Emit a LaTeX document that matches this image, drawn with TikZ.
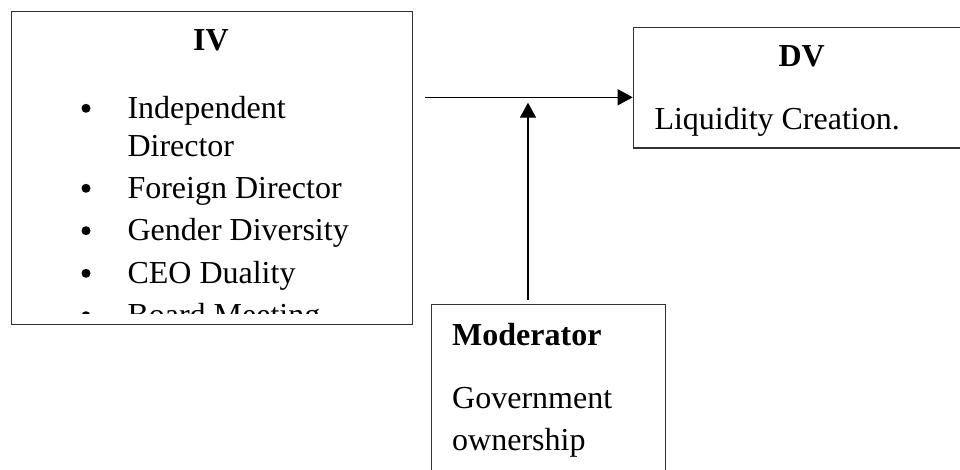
\documentclass[tikz,border=0pt]{standalone}
\usepackage{fontspec}
\setmainfont{Liberation Serif}
\usetikzlibrary{arrows.meta}
\tikzset{
  box/.style={draw=black!80, line width=1.3pt, rectangle, inner sep=0pt, anchor=north west},
  txt/.style={anchor=base west, inner sep=0pt, font=\fontsize{32}{38}\selectfont},
  head/.style={anchor=base, inner sep=0pt, font=\fontsize{32}{38}\selectfont\bfseries},
  arr/.style={line width=1.3pt, draw=black, -{Triangle[length=15pt,width=16pt]}},
  dot/.style={circle, fill=black, inner sep=0pt, minimum size=9pt}
}
\begin{document}
\begin{tikzpicture}[x=1pt,y=-1pt]
\useasboundingbox (0,0) rectangle (960,470);
\clip (0,0) rectangle (960,470);
% boxes
\node[box, minimum width=401.3pt, minimum height=313pt] (iv) at (10.7,11) {};
\node[box, minimum width=340pt, minimum height=120.5pt] (dv) at (632.7,27) {};
\node[box, minimum width=234pt, minimum height=190pt] (mod) at (431,304) {};
% IV content
\node[head] (ivt) at (211,50.5) {IV};
\begin{scope}
\clip (10.7,11) rectangle (412,313);
\node[dot] (b1) at (86,108.3) {};
\node[dot] (b2) at (86,188.3) {};
\node[dot] (b3) at (86,230.7) {};
\node[dot] (b4) at (86,273.3) {};
\node[dot] (b5) at (86,315.7) {};
\node[txt] (t1) at (127.3,118.3) {Independent};
\node[txt] (t1b) at (127.3,156.7) {Director};
\node[txt] (t2) at (127.3,198.3) {Foreign Director};
\node[txt] (t3) at (127.3,240.7) {Gender Diversity};
\node[txt] (t4) at (127.3,283.3) {CEO Duality};
\node[txt] (t5) at (127.3,325.7) {Board Meeting};
\end{scope}
% DV content
\node[head] (dvt) at (801.7,66.7) {DV};
\node[txt] (dvl) at (654.3,130) {Liquidity Creation.};
% Moderator content
\node[txt, font=\fontsize{32}{38}\selectfont\bfseries] (modt) at (452,345) {Moderator};
\node[txt] (mod1) at (452,408.3) {Government};
\node[txt] (mod2) at (452,450) {ownership};
% connectors
\coordinate (hstart) at (425,97.3);
\coordinate (vtip) at (528,102.7);
\draw[arr] (hstart) -- (hstart -| dv.west);
\draw[arr] ([yshift=4pt]mod.north -| vtip) -- (vtip);
\end{tikzpicture}
\end{document}
